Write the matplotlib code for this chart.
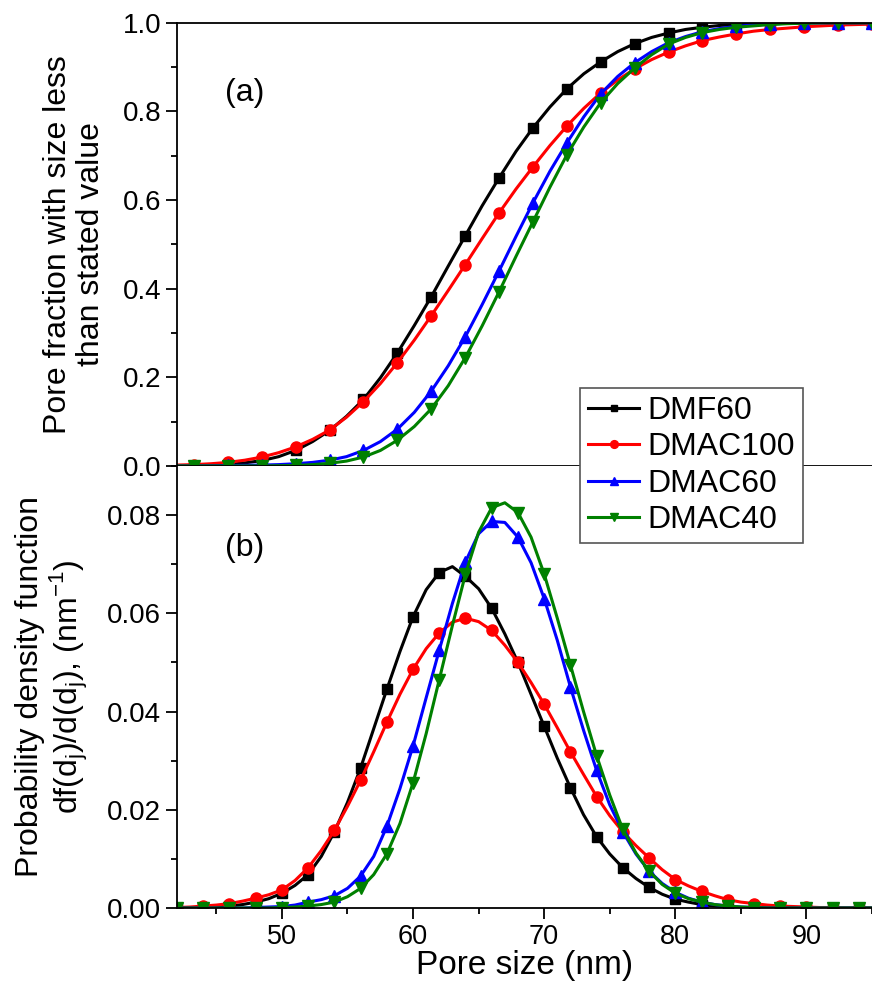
import matplotlib
matplotlib.use("Agg")
import matplotlib.pyplot as plt
from matplotlib.ticker import MultipleLocator

plt.rcParams['font.family'] = ['Liberation Sans', 'DejaVu Sans']
plt.rcParams['mathtext.fontset'] = 'custom'
plt.rcParams['mathtext.rm'] = 'Liberation Sans'

labels = ["DMF60", "DMAC100", "DMAC60", "DMAC40"]
colors = ["black", "red", "blue", "green"]
markers = ["s", "o", "^", "v"]

# cumulative pore fraction read at 1 nm, x = 47..88 (markers on even sizes)
cdf_x = list(range(47, 89))
cdf_dmf60 = [0.0, 0.0, 0.001, 0.003, 0.007, 0.012, 0.021, 0.035, 0.055, 0.08, 0.112, 0.15,
             0.199, 0.255, 0.317, 0.382, 0.451, 0.519, 0.587, 0.65, 0.71, 0.763, 0.81, 0.851,
             0.885, 0.912, 0.935, 0.953, 0.967, 0.977, 0.985, 0.99, 0.994, 0.996, 0.998, 0.999,
             1.0, 1.0, 1.0, 1.0, 1.0, 1.0]
cdf_dmac100 = [0.002, 0.003, 0.005, 0.008, 0.013, 0.02, 0.03, 0.043, 0.06, 0.081, 0.11, 0.145,
               0.186, 0.233, 0.284, 0.339, 0.396, 0.454, 0.513, 0.571, 0.625, 0.675, 0.723, 0.767,
               0.807, 0.842, 0.871, 0.896, 0.917, 0.934, 0.948, 0.96, 0.968, 0.975, 0.981, 0.985,
               0.988, 0.991, 0.993, 0.995, 0.996, 0.997]
cdf_dmac60 = [0.0, 0.0, 0.0005, 0.001, 0.0015, 0.002, 0.003, 0.005, 0.008, 0.013, 0.021, 0.035,
              0.055, 0.083, 0.121, 0.169, 0.226, 0.291, 0.364, 0.44, 0.518, 0.594, 0.665, 0.729,
              0.788, 0.84, 0.879, 0.91, 0.935, 0.955, 0.969, 0.98, 0.987, 0.992, 0.995, 0.997,
              0.999, 1.0, 1.0, 1.0, 1.0, 1.0]
cdf_dmac40 = [0.0, 0.0, 0.0, 0.0, 0.0, 0.0, 0.0005, 0.001, 0.003, 0.006, 0.011, 0.02,
              0.035, 0.058, 0.089, 0.129, 0.181, 0.244, 0.316, 0.393, 0.473, 0.551, 0.629, 0.702,
              0.765, 0.82, 0.863, 0.898, 0.928, 0.952, 0.967, 0.978, 0.985, 0.99, 0.993, 0.996,
              0.998, 0.999, 1.0, 1.0, 1.0, 1.0]

# probability density read at 1 nm, x = 42..95 (markers on even sizes)
pdf_x = list(range(42, 96))
pdf_dmf60 = [0.0, 0.0, 0.0001, 0.0002, 0.0004, 0.0007, 0.0012, 0.0019, 0.003, 0.0046,
             0.0068, 0.0105, 0.0155, 0.0215, 0.0285, 0.0365, 0.0445, 0.0522, 0.0593, 0.0648,
             0.0683, 0.0695, 0.0675, 0.065, 0.061, 0.0558, 0.050, 0.0435, 0.037, 0.0305,
             0.0245, 0.019, 0.0145, 0.011, 0.0082, 0.006, 0.0042, 0.0028, 0.0018, 0.0012,
             0.0007, 0.0004, 0.0002, 0.0001, 0.0001, 0.0, 0.0, 0.0, 0.0, 0.0,
             0.0, 0.0, 0.0, 0.0]
pdf_dmac100 = [0.0001, 0.0002, 0.0004, 0.0006, 0.0009, 0.0014, 0.002, 0.0027, 0.0037, 0.0056,
               0.0082, 0.0117, 0.0158, 0.0207, 0.026, 0.0318, 0.0378, 0.0435, 0.0486, 0.0528,
               0.056, 0.0582, 0.059, 0.0583, 0.0565, 0.0535, 0.050, 0.0459, 0.0415, 0.0367,
               0.0318, 0.0272, 0.0227, 0.0188, 0.0155, 0.0127, 0.0102, 0.0078, 0.0058, 0.0045,
               0.0034, 0.0025, 0.0017, 0.0012, 0.0009, 0.0006, 0.0004, 0.0003, 0.0002, 0.0001,
               0.0001, 0.0, 0.0, 0.0]
pdf_dmac60 = [0.0, 0.0, 0.0, 0.0, 0.0, 0.0, 0.0001, 0.0002, 0.0003, 0.0006,
              0.0012, 0.0017, 0.0025, 0.004, 0.0065, 0.0105, 0.0166, 0.0243, 0.033, 0.0428,
              0.0525, 0.062, 0.0705, 0.0762, 0.0787, 0.0785, 0.0755, 0.0703, 0.063, 0.0545,
              0.045, 0.0362, 0.028, 0.021, 0.0155, 0.011, 0.0075, 0.005, 0.0032, 0.002,
              0.0012, 0.0007, 0.0004, 0.0002, 0.0001, 0.0, 0.0, 0.0, 0.0, 0.0,
              0.0, 0.0, 0.0, 0.0]
pdf_dmac40 = [0.0, 0.0, 0.0, 0.0, 0.0, 0.0, 0.0, 0.0, 0.0001, 0.0002,
              0.0004, 0.0007, 0.0012, 0.0023, 0.004, 0.0068, 0.011, 0.0172, 0.0255, 0.0355,
              0.0465, 0.0575, 0.068, 0.0765, 0.0815, 0.0825, 0.0805, 0.0755, 0.068, 0.059,
              0.0495, 0.040, 0.031, 0.023, 0.016, 0.0112, 0.0075, 0.0048, 0.003, 0.0019,
              0.0012, 0.0007, 0.0004, 0.0002, 0.0001, 0.0, 0.0, 0.0, 0.0, 0.0,
              0.0, 0.0, 0.0, 0.0]

cdfs = [cdf_dmf60, cdf_dmac100, cdf_dmac60, cdf_dmac40]
pdfs = [pdf_dmf60, pdf_dmac100, pdf_dmac60, pdf_dmac40]
msizes = [6.5, 8, 8.5, 8.5]

fig = plt.figure(figsize=(8.72, 9.83), dpi=100)
ax1 = fig.add_axes([0.203, 0.526, 0.797, 0.4508])
ax2 = fig.add_axes([0.203, 0.0763, 0.797, 0.4497])

for y, c, m, ms in zip(cdfs, colors, markers, msizes):
    ax1.plot(cdf_x, y, color=c, marker=m, ms=ms, lw=2.2, markevery=slice(1, None, 2))
lines = []
for y, c, m, ms, lab in zip(pdfs, colors, markers, msizes, labels):
    ln, = ax2.plot(pdf_x, y, color=c, marker=m, ms=ms, lw=2.2, label=lab,
                   markevery=slice(0, None, 2))
    lines.append(ln)

ax1.set_xlim(47, 88)
ax2.set_xlim(42, 95)

for ax in (ax1, ax2):
    ax.spines['right'].set_visible(False)
    for s in ax.spines.values():
        s.set_linewidth(1.3)
    ax.tick_params(which='both', direction='out', width=1.3, labelsize=20, top=False, right=False)
    ax.tick_params(which='major', length=8)
    ax.tick_params(which='minor', length=4.5)

ax1.xaxis.set_major_locator(MultipleLocator(5))
ax1.tick_params(axis='x', labelbottom=False, length=7)
ax1.set_yticks([0, 0.2, 0.4, 0.6, 0.8, 1.0])
ax1.set_yticklabels(["0.0", "0.2", "0.4", "0.6", "0.8", "1.0"])
ax1.yaxis.set_minor_locator(MultipleLocator(0.1))
ax1.set_ylim(0, 1.0)

ax2.spines['top'].set_visible(False)
ax2.xaxis.set_major_locator(MultipleLocator(10))
ax2.xaxis.set_minor_locator(MultipleLocator(5))
ax2.yaxis.set_minor_locator(MultipleLocator(0.01))
ax2.set_yticks([0, 0.02, 0.04, 0.06, 0.08])
ax2.set_yticklabels(["0.00", "0.02", "0.04", "0.06", "0.08"])
ax2.set_ylim(0, 0.09)
ax2.tick_params(axis='x', labelsize=19.5)

ax1.set_ylabel("Pore fraction with size less\nthan stated value", fontsize=23, labelpad=12,
               linespacing=1.1)
ax2.set_ylabel("Probability density function\n"
               r"df(d$_\mathregular{j}$)/d(d$_\mathregular{j}$), (nm$^\mathregular{-1}$)",
               fontsize=23, labelpad=12, linespacing=1.1)
ax2.set_xlabel("Pore size (nm)", fontsize=24, labelpad=0)

fig.text(245 / 872, 1 - 93 / 983, "(a)", fontsize=23, ha='center', va='center')
fig.text(245 / 872, 1 - 548 / 983, "(b)", fontsize=23, ha='center', va='center')

leg = ax2.legend(handles=lines, loc='upper left', bbox_to_anchor=(580 / 872, 1 - 388 / 983),
                 bbox_transform=fig.transFigure, fontsize=23, frameon=True, fancybox=False,
                 framealpha=1, edgecolor='#555555', handlelength=1.6, handletextpad=0.25,
                 labelspacing=0.2, borderpad=0.25, borderaxespad=0, numpoints=1, markerscale=0.7)
leg.get_frame().set_linewidth(1.2)
leg.set_zorder(10)

fig.savefig("out.png", dpi=100)
